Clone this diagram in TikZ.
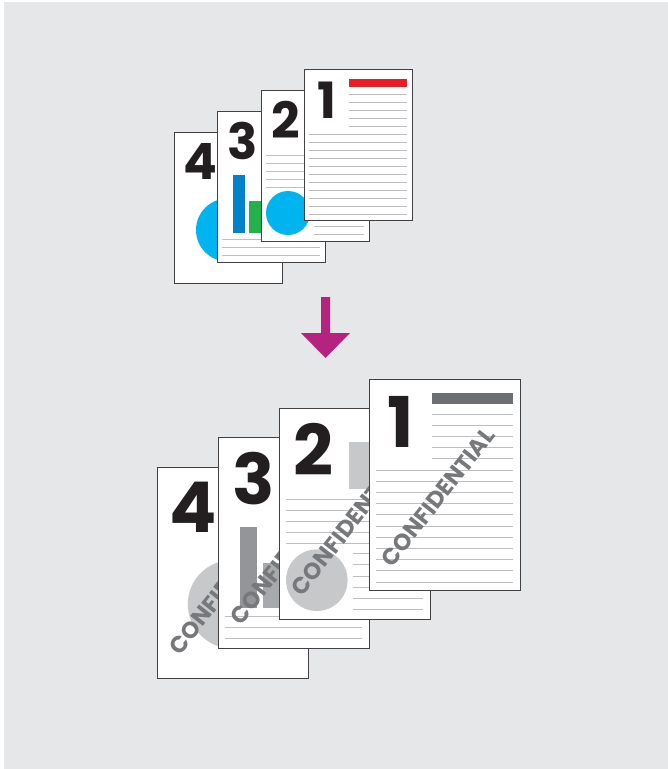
\documentclass[tikz,border=0pt]{standalone}
\usepackage{fontspec}
\newfontfamily\sheetfont{Poppins}
\usepackage{tikz}
\usetikzlibrary{calc}

\definecolor{bggray}{HTML}{E6E7E8}
\definecolor{edgegray}{HTML}{414042}
\definecolor{rulegray}{HTML}{BCBEC0}
\definecolor{inkblack}{HTML}{231F20}
\definecolor{stampgray}{HTML}{77787B}
\definecolor{arrowmag}{HTML}{B5237F}

% colours of the originals (top) and of the stamped copies (bottom)
\newcommand{\colourstop}{%
  \definecolor{barone}{HTML}{ED1C24}%
  \definecolor{blocktwo}{HTML}{00AEEF}%
  \definecolor{discone}{HTML}{00B5EF}%
  \definecolor{columna}{HTML}{0083C9}%
  \definecolor{columnb}{HTML}{22B24C}%
}
\newcommand{\colourscopy}{%
  \definecolor{barone}{HTML}{6D6E71}%
  \definecolor{blocktwo}{HTML}{C7C8CA}%
  \definecolor{discone}{HTML}{C7C8CA}%
  \definecolor{columna}{HTML}{939598}%
  \definecolor{columnb}{HTML}{A7A9AC}%
}

\newif\ifstamped

\tikzset{
  sheet/.style={draw=edgegray, fill=white, line width=1pt},
  rule/.style={draw=rulegray, line width=1pt},
  digit/.style={anchor=base west, inner sep=0pt, text=inkblack,
    font=\sheetfont\bfseries\fontsize{50}{50}\selectfont, transform shape},
  stamp/.style={rotate=52, inner sep=0pt, text=stampgray,
    font=\sheetfont\bfseries\fontsize{16.5}{16.5}\selectfont, transform shape},
}

\newcommand{\stampit}{\ifstamped\node[stamp] at (49.3,84.3) {CONFIDENTIAL};\fi}

\newcommand{\pagefour}{%
  \path[sheet] (0,0) rectangle (108,151);
  \fill[discone] (53.5,98) circle (31.5);
  \node[digit] at (9,47) {4};
  \stampit
}
\newcommand{\pagethree}{%
  \path[sheet] (0,0) rectangle (108,151);
  \fill[columna] (16,64) rectangle (28,122);
  \fill[columnb] (32,90) rectangle (52,122);
  \foreach \y in {128,136,144} \draw[rule] (5,\y) -- (103,\y);
  \node[digit] at (10,48) {3};
  \stampit
}
\newcommand{\pagetwo}{%
  \path[sheet] (0,0) rectangle (108,151);
  \fill[blocktwo] (50,24) rectangle (80,58);
  \foreach \y in {65,73,...,97} \draw[rule] (5,\y) -- (103,\y);
  \foreach \y in {104,112,...,144} \draw[rule] (53,\y) -- (103,\y);
  \fill[discone] (27,123) circle (22);
  \node[digit] at (10,48) {2};
  \stampit
}
\newcommand{\pageone}{%
  \path[sheet] (0,0) rectangle (108,151);
  \fill[barone] (45,10) rectangle (103,18);
  \foreach \y in {25,33,...,57} \draw[rule] (45,\y) -- (103,\y);
  \foreach \y in {65,73,...,145} \draw[rule] (5,\y) -- (103,\y);
  \node[digit] at (13,49) {1};
  \stampit
}

\begin{document}
\begin{tikzpicture}[x=1pt, y=-1pt]
\useasboundingbox (0,0) rectangle (668,769);
\fill[bggray] (4,2) rectangle (668,769);

% originals
\begin{scope}
\colourstop
\begin{scope}[shift={(174,132)}] \pagefour \end{scope}
\begin{scope}[shift={(217,111)}] \pagethree \end{scope}
\begin{scope}[shift={(261,90)}] \pagetwo \end{scope}
\begin{scope}[shift={(304,69)}] \pageone \end{scope}
\end{scope}

% arrow
\fill[arrowmag] (321,297) -- (330,297) -- (330,333) -- (350,333) -- (325.5,358)
  -- (301,333) -- (321,333) -- cycle;

% stamped copies
\begin{scope}
\colourscopy
\stampedtrue
\begin{scope}[shift={(157,467)}, scale=1.4] \pagefour \end{scope}
\begin{scope}[shift={(218,437)}, scale=1.4] \pagethree \end{scope}
\begin{scope}[shift={(279,408)}, scale=1.4] \pagetwo \end{scope}
\begin{scope}[shift={(369,379)}, scale=1.4] \pageone \end{scope}
\end{scope}
\end{tikzpicture}
\end{document}
